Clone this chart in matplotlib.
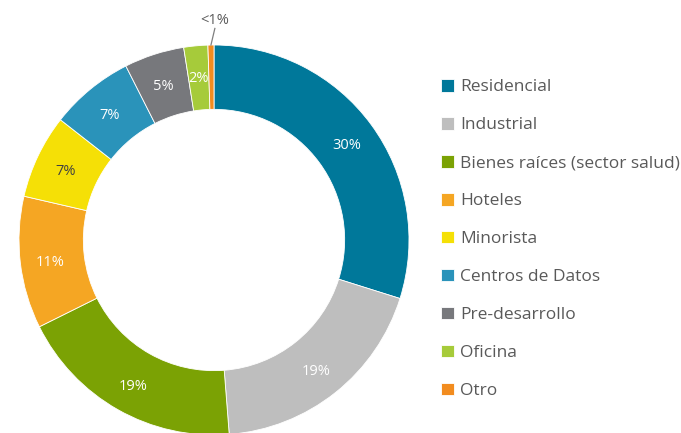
import matplotlib.pyplot as plt
import numpy as np

plt.rcParams['font.family'] = ['Open Sans', 'DejaVu Sans']

# -------------------------------
# Data
# -------------------------------
categories = ['Residencial', 'Industrial', 'Bienes raíces (sector salud)', 'Hoteles',
              'Minorista', 'Centros de Datos', 'Pre-desarrollo', 'Oficina', 'Otro']
values = [30, 19, 19, 11, 7, 7, 5, 2, 0.5]
pct_labels = ['30%', '19%', '19%', '11%', '7%', '7%', '5%', '2%', '<1%']
colors = ['#00789A', '#BEBEBE', '#7BA204', '#F5A623', '#F5E006',
          '#2A93BA', '#77787C', '#A6CB3A', '#F28C1F']
label_colors = ['white', 'white', 'white', 'white', '#404040', 'white', 'white', 'white', '#595959']

W, H = 681, 433
fig = plt.figure(figsize=(W / 100, H / 100), dpi=100)

# donut centre (214, 240) px, outer radius 195 px
cx, cy, R = 214, 240, 195
ax = fig.add_axes([(cx - R) / W, (H - cy - R) / H, 2 * R / W, 2 * R / H])
ring = 0.33

wedges, _ = ax.pie(values, colors=colors, startangle=90, counterclock=False,
                   radius=1, wedgeprops=dict(width=ring, edgecolor='white', linewidth=0.6))
ax.set_xlim(-1, 1)
ax.set_ylim(-1, 1)
ax.set_aspect('equal')
ax.axis('off')

for w, lab, lc in zip(wedges, pct_labels, label_colors):
    ang = np.deg2rad((w.theta1 + w.theta2) / 2)
    if lab == '<1%':
        x0, y0 = np.cos(ang) * 1.0, np.sin(ang) * 1.0
        ax.plot([x0, x0 + 0.02], [y0, y0 + 0.085], color='#7F7F7F', lw=0.9, clip_on=False)
        ax.text(0.005, 1.125, lab, color=lc, fontsize=10.5, ha='center', va='center')
        continue
    r = 1 - ring / 2 + 0.01
    ax.text(r * np.cos(ang), r * np.sin(ang) - 0.015, lab, color=lc, fontsize=10.5,
            ha='center', va='center')

leg = fig.legend(wedges, categories, loc='upper left', bbox_to_anchor=(441 / W, 1 - 79 / H),
                 frameon=False, fontsize=12.5, labelcolor='#595959',
                 handlelength=0.75, handleheight=0.75, handletextpad=0.35,
                 labelspacing=1.24, borderpad=0, borderaxespad=0)

fig.savefig('out.png', dpi=100)
